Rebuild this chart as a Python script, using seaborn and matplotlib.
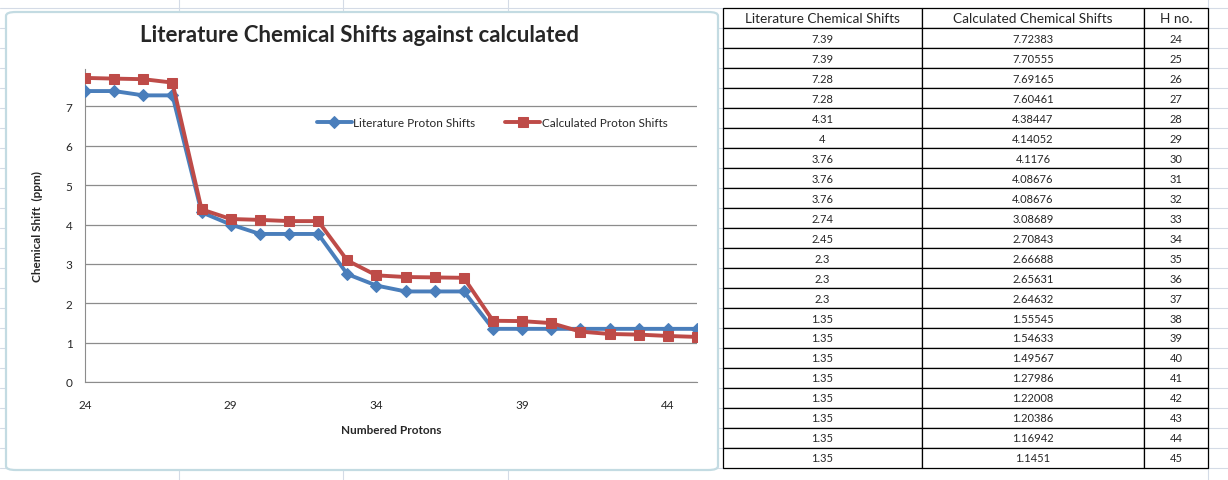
import numpy as np
import pandas as pd
import matplotlib
matplotlib.use('Agg')
import matplotlib.pyplot as plt
import seaborn as sns
from matplotlib.patches import FancyBboxPatch
from matplotlib.lines import Line2D

h_no = [24, 25, 26, 27, 28, 29, 30, 31, 32, 33, 34, 35, 36, 37, 38, 39, 40, 41, 42, 43, 44, 45]
lit_shifts = [7.39, 7.39, 7.28, 7.28, 4.31, 4, 3.76, 3.76, 3.76, 2.74, 2.45, 2.3, 2.3, 2.3,
              1.35, 1.35, 1.35, 1.35, 1.35, 1.35, 1.35, 1.35]
calc_shifts = [7.72383, 7.70555, 7.69165, 7.60461, 4.38447, 4.14052, 4.1176, 4.08676, 4.08676,
               3.08689, 2.70843, 2.66688, 2.65631, 2.64632, 1.55545, 1.54633, 1.49567, 1.27986,
               1.22008, 1.20386, 1.16942, 1.1451]
lit_text = ['7.39', '7.39', '7.28', '7.28', '4.31', '4', '3.76', '3.76', '3.76', '2.74', '2.45',
            '2.3', '2.3', '2.3', '1.35', '1.35', '1.35', '1.35', '1.35', '1.35', '1.35', '1.35']
calc_text = ['7.72383', '7.70555', '7.69165', '7.60461', '4.38447', '4.14052', '4.1176', '4.08676',
             '4.08676', '3.08689', '2.70843', '2.66688', '2.65631', '2.64632', '1.55545', '1.54633',
             '1.49567', '1.27986', '1.22008', '1.20386', '1.16942', '1.1451']
col_labels = ['Literature Chemical Shifts', 'Calculated Chemical Shifts', 'H no.']

df = pd.DataFrame({'H': h_no, 'lit': lit_shifts, 'calc': calc_shifts})

sns.set_style('white')
plt.rcParams['font.family'] = ['Lato', 'DejaVu Sans']

W, H = 1228, 481
fig = plt.figure(figsize=(W / 100, H / 100), dpi=100)


def fx(px):
    return px / W


def fy(py):
    return 1 - py / H


# faint excel sheet grid in the background
grid_c = '#d4dbe6'
for k in range(-1, 24):
    y = 9 + 20 * k
    fig.add_artist(Line2D([0, 1], [fy(y), fy(y)], color=grid_c, lw=0.8, zorder=0))
for x in [179, 343, 508, 1208]:
    fig.add_artist(Line2D([fx(x), fx(x)], [0, 1], color=grid_c, lw=0.8, zorder=0))

# chart frame
frame = FancyBboxPatch((fx(6), fy(471)), fx(712), 458 / H,
                       boxstyle='round,pad=0,rounding_size=0.008',
                       transform=fig.transFigure, facecolor='white',
                       edgecolor='#c3dbe2', lw=1.6, zorder=1)
fig.add_artist(frame)

# plot area
ax = fig.add_axes([fx(85), fy(383), fx(697 - 85), (383 - 70) / H])
ax.set_zorder(2)
ax.patch.set_alpha(0)

blue = '#4a7ebb'
red = '#be4b48'
sns.lineplot(data=df, x='H', y='lit', ax=ax, color=blue, lw=2.8, marker='D', markersize=6,
             markeredgecolor=blue, label='Literature Proton Shifts', zorder=3)
sns.lineplot(data=df, x='H', y='calc', ax=ax, color=red, lw=2.8, marker='s', markersize=7.5,
             markeredgecolor=red, label='Calculated Proton Shifts', zorder=4)

ax.set_xlim(24, 45)
ax.set_ylim(0, 7.95)
ax.set_xticks([24, 29, 34, 39, 44])
ax.set_yticks(range(0, 8))
ax.grid(axis='y', color='#8c8c8c', lw=0.9)
for s in ['top', 'right']:
    ax.spines[s].set_visible(False)
ax.spines['left'].set_color('#8c8c8c')
ax.spines['bottom'].set_color('#8c8c8c')
ax.tick_params(axis='both', direction='out', length=4, color='#8c8c8c', labelsize=8.5,
               width=0.9, pad=5)
ax.tick_params(axis='x', pad=8)

ax.set_xlabel('Numbered Protons', fontsize=8.5, fontweight='bold', labelpad=10)
ax.set_ylabel('Chemical Shift  (ppm)', fontsize=8.5, fontweight='bold', labelpad=16)

leg = ax.legend(loc='center', bbox_to_anchor=(0.665, 0.83), ncol=2, frameon=False,
                fontsize=8.5, handlelength=3, columnspacing=2.5, handletextpad=0.1)

fig.text(fx(360), fy(35), 'Literature Chemical Shifts against calculated',
         ha='center', va='center', fontsize=16, fontweight='bold', zorder=3)

# data table on the right
tax = fig.add_axes([fx(723), fy(469), fx(1208 - 723), 460 / H])
tax.axis('off')
cells = [[a, b, str(c)] for a, b, c in zip(lit_text, calc_text, h_no)]
tbl = tax.table(cellText=cells, colLabels=col_labels, bbox=[0, 0, 1, 1],
                colWidths=[199, 222, 64], cellLoc='center')
tbl.auto_set_font_size(False)
for (r, c), cell in tbl.get_celld().items():
    cell.set_edgecolor('black')
    cell.set_linewidth(0.9)
    cell.set_facecolor('white')
    if r == 0:
        cell.get_text().set_fontsize(9.8)
    else:
        cell.get_text().set_fontsize(8)

fig.savefig('out.png', dpi=100)
